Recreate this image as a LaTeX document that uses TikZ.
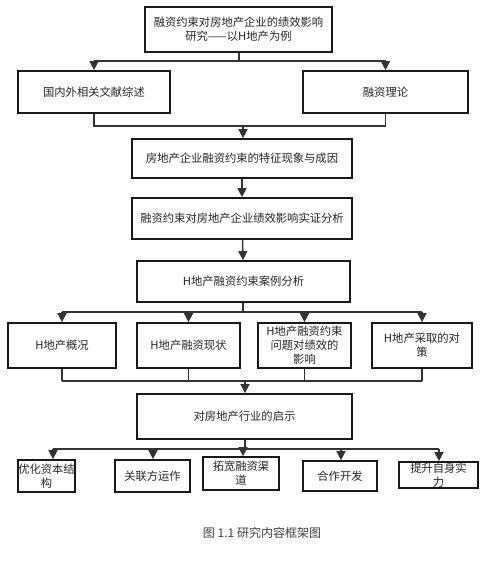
\documentclass[tikz,border=0pt]{standalone}
\usepackage{fontspec}
\setmainfont{Noto Sans CJK SC}
\newfontfamily\cjk{Noto Sans CJK SC}
\usetikzlibrary{arrows.meta,calc}
\begin{document}
\begin{tikzpicture}[x=1pt,y=-1pt,
  box/.style={draw=black!90,line width=1.7pt,inner sep=0pt,align=center,
    font=\cjk\fontsize{11.3}{14}\selectfont,text=black!85},
  conn/.style={line width=1.5pt,draw=black!80},
  arr/.style={conn,-{Triangle[length=9pt,width=9pt]}}]
\useasboundingbox[fill=white] (0,0) rectangle (489,563);
% nodes
\node[box,minimum width=187pt,minimum height=45pt] (title) at (238.5,29.5) {融资约束对房地产企业的绩效影响\\研究——以H地产为例};
\node[box,minimum width=152pt,minimum height=42pt] (lit) at (94,92) {国内外相关文献综述};
\node[box,minimum width=165pt,minimum height=42pt] (theory) at (385.5,92) {融资理论};
\node[box,minimum width=220pt,minimum height=39pt] (b3) at (242,158.5) {房地产企业融资约束的特征现象与成因};
\node[box,minimum width=220pt,minimum height=41pt] (b4) at (242,218.5) {融资约束对房地产企业绩效影响实证分析};
\node[box,minimum width=213pt,minimum height=41pt] (b5) at (243.5,281.5) {H地产融资约束案例分析};
\node[box,minimum width=108pt,minimum height=45pt] (r1) at (62,345.5) {H地产概况};
\node[box,minimum width=103pt,minimum height=45pt] (r2) at (188.5,345.5) {H地产融资现状};
\node[box,minimum width=93pt,minimum height=45pt] (r3) at (304.5,345.5) {H地产融资约束\\问题对绩效的\\影响};
\node[box,minimum width=100pt,minimum height=45pt] (r4) at (422,345.5) {H地产采取的对\\策};
\node[box,minimum width=215pt,minimum height=45pt] (ins) at (244.5,416.5) {对房地产行业的启示};
\node[box,minimum width=57pt,minimum height=32pt] (c1) at (46.5,476) {优化资本结\\构};
\node[box,minimum width=75pt,minimum height=32pt] (c2) at (152.5,476) {关联方运作};
\node[box,minimum width=76pt,minimum height=33pt] (c3) at (241,473.5) {拓宽融资渠\\道};
\node[box,minimum width=74pt,minimum height=30pt] (c4) at (340,476) {合作开发};
\node[box,minimum width=79pt,minimum height=26pt] (c5) at (438.5,475) {提升自身实\\力};
\node[font=\cjk\fontsize{12}{14}\selectfont,text=black!75] (cap) at (262,533) {图 1.1 研究内容框架图};
% junction coordinates
\coordinate (j1) at (239,61);
\coordinate (j2) at (243,126);
\coordinate (j3) at (243,312);
\coordinate (j4) at (245,381);
\coordinate (j5) at (245,449);
\coordinate (a1) at (53,449);
\coordinate (a2) at (153,449);
\coordinate (a3) at (243,449);
\coordinate (a4) at (341,449);
\coordinate (a5) at (439,449);
% title to first row
\draw[conn] (title.south -| j1) -- (j1);
\draw[conn] (lit.north |- j1) -- (theory.north |- j1);
\draw[arr] (lit.north |- j1) -- (lit.north);
\draw[arr] (theory.north |- j1) -- (theory.north);
% first row to b3
\draw[conn] (lit.south) -- (lit.south |- j2) -- (theory.south |- j2) -- (theory.south);
\draw[arr] (j2) -- (j2 |- b3.north);
\draw[arr] (b3) -- (b4);
\draw[arr] (b4) -- (b5);
% b5 to row r
\draw[conn] (b5.south -| j3) -- (j3);
\draw[conn] (r1.north |- j3) -- (r4.north |- j3);
\foreach \n in {r1,r2,r3,r4} \draw[arr] (\n.north |- j3) -- (\n.north);
% row r to insight
\foreach \n in {r1,r2,r3,r4} \draw[conn,line width=1.1pt] (\n.south) -- (\n.south |- j4);
\draw[conn,line width=1.1pt] (r1.south |- j4) -- (r4.south |- j4);
\draw[arr] (j4) -- (j4 |- ins.north);
% insight to bottom row
\draw[conn] (ins.south -| j5) -- (j5);
\draw[conn] (a1) -- (a5);
\draw[arr] (a1) -- (a1 |- c1.north);
\draw[arr] (a2) -- (a2 |- c2.north);
\draw[arr] (a3) -- (a3 |- c3.north);
\draw[arr] (a4) -- (a4 |- c4.north);
\draw[arr] (a5) -- (a5 |- c5.north);
\end{tikzpicture}
\end{document}
